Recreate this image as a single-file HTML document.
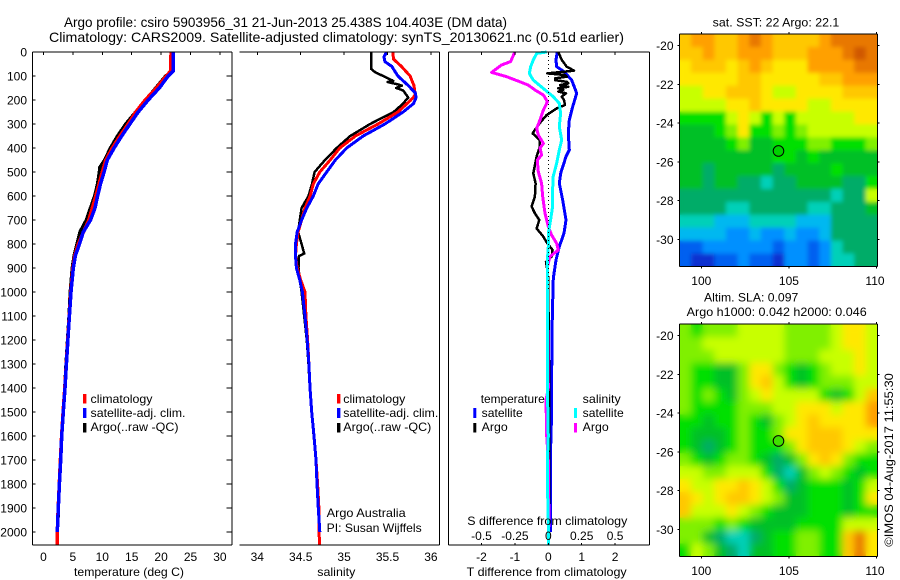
<!DOCTYPE html>
<html lang="en">
<head>
<meta charset="utf-8">
<title>Argo profile chart</title>
<style>
html,body{margin:0;padding:0;background:#fff;width:900px;height:580px;overflow:hidden}
svg{position:absolute;left:0;top:0;display:block}
text{font-family:"Liberation Sans",Arial,sans-serif;font-size:12px;fill:#000}
.t{font-size:14px}
</style>
</head>
<body>
<svg id="chart" xmlns="http://www.w3.org/2000/svg" width="900" height="580" viewBox="0 0 900 580">
<defs>
<filter id="blur-sst" x="-5%" y="-5%" width="110%" height="110%"><feGaussianBlur in="SourceGraphic" stdDeviation="2" result="b"/><feMerge><feMergeNode in="SourceGraphic"/><feMergeNode in="b"/></feMerge></filter>
<filter id="blur-sla" x="-5%" y="-5%" width="110%" height="110%"><feGaussianBlur in="SourceGraphic" stdDeviation="4" result="b"/><feMerge><feMergeNode in="SourceGraphic"/><feMergeNode in="b"/></feMerge></filter>
<clipPath id="clip-sst"><rect x="679.4" y="34.1" width="198.1" height="232.4"/></clipPath>
<clipPath id="clip-sla"><rect x="679.4" y="324.1" width="198.1" height="232.4"/></clipPath>
</defs>
<rect x="0" y="0" width="900" height="580" fill="#fff"/>
<text class="t" x="64" y="27" textLength="443" lengthAdjust="spacingAndGlyphs">Argo profile: csiro 5903956_31 21-Jun-2013 25.438S 104.403E (DM data)</text>
<text class="t" x="49" y="42" textLength="575" lengthAdjust="spacingAndGlyphs">Climatology: CARS2009. Satellite-adjusted climatology: synTS_20130621.nc (0.51d earlier)</text>
<g clip-path="url(#clip-sst)"><g id="layer-sst" filter="url(#blur-sst)"></g></g>
<g clip-path="url(#clip-sla)"><g id="layer-sla" filter="url(#blur-sla)"></g></g>
<g id="layer-lines"></g>
<g id="layer-axes"></g>

<text x="74" y="576" textLength="110" lengthAdjust="spacingAndGlyphs">temperature (deg C)</text>
<text x="317.3" y="576" textLength="38" lengthAdjust="spacingAndGlyphs">salinity</text>
<text x="466.7" y="576" textLength="160" lengthAdjust="spacingAndGlyphs">T difference from climatology</text>
<text x="467.3" y="525" textLength="160" lengthAdjust="spacingAndGlyphs">S difference from climatology</text>

<g>
<rect x="83" y="394" width="3.4" height="9.5" fill="#f00"/>
<rect x="83" y="408" width="3.4" height="10" fill="#00f"/>
<rect x="83" y="423" width="3.4" height="9.5" fill="#000"/>
<text x="90.5" y="403" textLength="62" lengthAdjust="spacingAndGlyphs">climatology</text>
<text x="90.5" y="417" textLength="95" lengthAdjust="spacingAndGlyphs">satellite-adj. clim.</text>
<text x="90.5" y="431" textLength="88" lengthAdjust="spacingAndGlyphs">Argo(..raw -QC)</text>
</g>
<g>
<rect x="337" y="394" width="3.4" height="9.5" fill="#f00"/>
<rect x="337" y="408" width="3.4" height="10" fill="#00f"/>
<rect x="337" y="423" width="3.4" height="9.5" fill="#000"/>
<text x="343.3" y="403" textLength="62" lengthAdjust="spacingAndGlyphs">climatology</text>
<text x="343.3" y="417" textLength="95" lengthAdjust="spacingAndGlyphs">satellite-adj. clim.</text>
<text x="343.3" y="431" textLength="88" lengthAdjust="spacingAndGlyphs">Argo(..raw -QC)</text>
</g>
<text x="326.7" y="517" textLength="79" lengthAdjust="spacingAndGlyphs">Argo Australia</text>
<text x="326.7" y="532" textLength="95" lengthAdjust="spacingAndGlyphs">PI: Susan Wijffels</text>

<g>
<text x="480.7" y="403" textLength="64" lengthAdjust="spacingAndGlyphs">temperature</text>
<text x="582.7" y="403" textLength="38" lengthAdjust="spacingAndGlyphs">salinity</text>
<rect x="473.3" y="408" width="3" height="10" fill="#00f"/>
<rect x="473.3" y="423" width="3" height="9.5" fill="#000"/>
<rect x="574" y="408" width="3" height="10" fill="#0ff"/>
<rect x="574" y="423" width="3" height="9.5" fill="#f0f"/>
<text x="481.7" y="417" textLength="41" lengthAdjust="spacingAndGlyphs">satellite</text>
<text x="481.7" y="431" textLength="26" lengthAdjust="spacingAndGlyphs">Argo</text>
<text x="582.7" y="417" textLength="41" lengthAdjust="spacingAndGlyphs">satellite</text>
<text x="582.7" y="431" textLength="26" lengthAdjust="spacingAndGlyphs">Argo</text>
</g>

<text x="712.7" y="26.5" textLength="126.6" lengthAdjust="spacingAndGlyphs">sat. SST: 22 Argo: 22.1</text>
<text x="704" y="301.5" textLength="94.3" lengthAdjust="spacingAndGlyphs">Altim. SLA: 0.097</text>
<text x="686.7" y="316" textLength="180" lengthAdjust="spacingAndGlyphs">Argo h1000: 0.042 h2000: 0.046</text>
<text transform="translate(893,546.7) rotate(-90)" textLength="173.5" lengthAdjust="spacingAndGlyphs">©IMOS 04-Aug-2017 11:55:30</text>
</svg>

<script>
// ---------- chart data ----------
const depthTicks = [0,100,200,300,400,500,600,700,800,900,1000,1100,1200,1300,1400,1500,1600,1700,1800,1900,2000];
const tempTicks = [0,5,10,15,20,25,30];
const salTicks = [34,34.5,35,35.5,36];
const tDiffTicks = [-2,-1,0,1,2];
const sDiffTicks = [-0.5,-0.25,0,0.25,0.5];
const lonTicks = [100,105,110];
const latTicks = [-20,-22,-24,-26,-28,-30];

const tempClimDepth = [0,80,100,150,200,250,300,350,400,450,500,600,700,800,850,900,1000,1100,1200,1300,1400,1500,1600,1700,1800,1900,2000,2054];
const tempClim = [21.7,21.6,20.9,19.2,17.3,15.7,14.4,13,11.7,10.6,10,8.9,7.7,5.9,5.3,5,4.65,4.38,4.12,3.88,3.62,3.33,3.08,2.88,2.68,2.5,2.35,2.33];
const tempSatDepth = [0,80,100,150,200,250,300,350,400,450,500,550,600,650,700,750,800,850,900,1000,1100,1200,1300,1400,1500,1600,1700,1800,1900,2000];
const tempSat = [22.08,22.05,21.2,19.7,17.8,16.1,14.7,13.3,12,10.85,10.3,9.7,9.2,8.76,8,6.77,6.1,5.4,5.07,4.68,4.4,4.15,3.9,3.66,3.37,3.1,2.92,2.7,2.52,2.35];
const tempArgoDepth = [0,80,90,100,150,200,250,300,350,400,450,480,500,550,600,650,700,750,800,850,900,1000,1100,1200,1300,1400,1500,1600,1700,1800,1900,1980];
const tempArgo = [22,22,21.3,20.8,19.1,17.4,15.7,14,12.6,11.4,10.4,9.6,9.5,9.2,8.7,8,7.3,6.2,5.7,5.2,4.9,4.55,4.35,4.1,3.85,3.62,3.35,3.08,2.9,2.68,2.52,2.42];

const salClimDepth = [0,30,60,100,140,180,200,250,300,350,400,450,500,550,600,650,700,750,800,850,900,950,1000,1100,1200,1300,1400,1500,1600,1700,1800,1900,2000,2054];
const salClim = [35.56,35.57,35.66,35.76,35.805,35.82,35.77,35.62,35.39,35.13,34.95,34.84,34.72,34.645,34.61,34.55,34.51,34.47,34.45,34.44,34.46,34.5,34.55,34.56,34.58,34.595,34.607,34.627,34.653,34.676,34.695,34.71,34.71,34.72];
const salSatDepth = [0,20,40,60,100,140,170,190,215,250,300,350,400,450,500,550,600,650,700,750,800,850,900,950,1000,1100,1200,1300,1400,1500,1600,1700,1800,1900,2000];
const salSat = [35.49,35.46,35.47,35.55,35.62,35.74,35.82,35.83,35.8,35.68,35.47,35.22,35.03,34.9,34.8,34.7,34.645,34.57,34.51,34.46,34.44,34.44,34.45,34.49,34.52,34.55,34.575,34.595,34.607,34.627,34.653,34.676,34.688,34.703,34.72];
const salArgoDepth = [0,70,85,100,120,125,135,140,150,160,170,190,220,250,300,350,400,450,500,550,600,650,700,750,800,840,850,900,950,1000,1100,1200,1300,1400,1500,1600,1700,1800,1900,1980];
const salArgo = [35.31,35.31,35.36,35.45,35.565,35.5,35.62,35.665,35.6,35.68,35.7,35.74,35.665,35.57,35.3,35.07,34.915,34.78,34.66,34.63,34.59,34.51,34.49,34.47,34.51,34.54,34.48,34.475,34.49,34.51,34.54,34.57,34.59,34.605,34.625,34.65,34.675,34.69,34.705,34.71];

const dTSatDepth = [0,33,61,82,117,172,228,283,339,408,436,505,547,617,700,755,811,867,943,1100,1367,1550,1700,2000];
const dTSat = [0.27,0.23,0.25,0.47,0.7,0.85,0.73,0.63,0.6,0.63,0.53,0.37,0.33,0.43,0.53,0.47,0.33,0.23,0.15,0.12,0.1,0.09,0.06,0.06];
const dTArgoDepth = [0,33,61,78,89,96,103,110,117,124,131,138,145,151,158,165,172,186,200,221,235,263,290,325,339,367,394,436,506,547,603,644,672,700,735,769,797,825,853,874,908,943,1000,1400,1980];
const dTArgo = [0.3,0.4,0.55,0.77,-0.03,0.5,0.55,0.2,0.2,0.55,0.6,0.35,0.6,0.3,0.45,0.3,0.53,0.4,0.47,0.5,0.25,-0.05,-0.22,-0.4,-0.47,-0.25,-0.25,-0.35,-0.45,-0.38,-0.4,-0.5,-0.4,-0.27,-0.35,-0.15,-0.03,0.13,0.1,-0.07,-0.03,0,0,0.03,0.03];
const dSSatDepth = [0,6,33,61,89,117,158,186,214,256,311,367,408,464,519,575,644,700,756,811,867,943,1000,1400,1600,1700,1800,1950,2054];
const dSSat = [-0.012,-0.087,-0.112,-0.132,-0.142,-0.112,-0.025,0.037,0.082,0.092,0.082,0.1,0.082,0.062,0.037,0.032,0.032,0.017,0,0,-0.007,-0.007,-0.007,-0.007,0,-0.007,-0.007,0,0];
const dSArgoDepth = [0,40,54,85,103,124,138,158,179,207,242,283,318,346,381,401,429,450,499,547,603,672,728,763,797,825,853,894,943,1000,1400,1450,1600,1700,1980];
const dSArgo = [-0.25,-0.282,-0.35,-0.424,-0.312,-0.212,-0.15,-0.1,-0.037,-0.007,-0.037,-0.062,-0.087,-0.075,-0.037,-0.062,-0.05,-0.082,-0.075,-0.05,-0.042,-0.025,0,0.025,0.062,0.075,0.012,-0.007,-0.007,-0.007,0,-0.017,-0.012,0,0.005];

// Map cell values are colour-scale levels (top row first).
const sstRows = [
[11,12,12,11,11,12,13,12,11,11,11,11,12,13,13,13,13],
[11,11,12,11,11,12,12,12,11,11,11,12,12,12,13,14,13],
[10,11,11,11,10,11,12,11,10,10,10,12,12,12,12,13,13],
[10,10,10,10,10,11,11,10,10,10,10,10,11,11,12,12,12],
[9,9,10,10,11,11,11,10,9,9,10,10,10,10,11,11,11],
[9,9,9,9,10,10,11,10,10,10,10,9,9,10,10,10,10],
[7,7,7,7,9,10,9,7,9,7,9,9,9,9,9,10,10],
[6,6,6,7,8,10,7,7,8,7,8,9,9,9,9,9,9],
[6,6,6,6,7,8,6,6,7,7,7,8,8,7,7,7,8],
[6,6,6,6,6,6,6,6,7,7,6,7,6,6,6,6,6],
[6,6,5,6,6,6,6,6,5,6,6,6,6,7,6,6,6],
[6,6,5,6,6,5,5,4,5,5,6,6,6,6,5,5,7],
[5,5,5,5,5,5,5,5,5,5,5,5,5,4,5,5,9],
[5,5,5,5,4,4,5,5,5,5,5,4,4,5,5,5,6],
[4,4,4,3,3,3,4,4,4,4,3,3,3,5,5,5,5],
[3,3,3,3,2,2,3,2,2,3,2,2,3,5,5,5,5],
[1,1,2,2,2,2,2,2,1,2,2,1,2,4,5,5,5],
[1,0,0,1,1,2,1,1,0,2,2,1,2,4,4,5,5]
];
const slaRows = [
[8,7,8,8,8,9,9,9,9,8,8,8,8,9,10,10,9],
[8,8,9,9,9,9,9,9,9,8,8,8,8,9,10,10,9],
[8,8,8,9,9,9,9,9,9,8,8,8,9,9,9,10,9],
[8,7,7,6,6,8,10,10,8,7,6,7,8,9,9,10,9],
[8,7,7,6,6,8,10,11,9,7,6,7,8,8,8,9,9],
[8,7,8,7,6,8,9,10,9,9,9,9,7,6,7,9,11],
[8,7,7,7,7,8,8,8,9,9,10,10,10,9,10,10,12],
[7,7,6,7,7,8,7,6,8,9,10,11,10,10,10,10,12],
[7,6,6,6,7,8,7,7,8,10,10,11,11,11,10,10,10],
[7,6,5,6,7,8,7,7,7,8,10,11,11,11,10,9,8],
[8,7,6,7,8,8,7,6,5,6,8,10,11,10,8,7,7],
[9,9,8,8,9,9,9,7,5,4,6,8,9,8,7,6,7],
[10,9,9,10,10,11,10,9,7,5,6,7,7,7,6,7,9],
[11,10,9,10,11,11,10,9,8,6,6,7,7,7,6,7,10],
[11,9,9,9,10,9,8,7,6,6,6,7,7,7,6,7,7],
[8,8,8,7,8,7,6,6,6,6,7,7,7,7,9,9,9],
[8,8,6,5,4,4,5,6,7,7,8,8,7,7,11,13,10],
[7,9,8,6,5,4,6,6,7,7,8,8,7,7,11,13,10]
];
const colourScale = ['#0a30d0','#0060f0','#0090ff','#00b8f0','#00d0b8','#00ac68','#00c028','#00e000','#80f000','#c8ff00','#ffe800','#ffc800','#ffa000','#e87800','#d05800'];
const floatLon = [104.403];
const floatLat = [-25.438];

// ---------- axis functions ----------
const yDepth = d => 52 + 0.24 * d;
const xTemp = t => 43.5 + 5.88 * t;
const xSal = s => 257.3 + 86.8 * (s - 34);
const xDT = t => 548.3 + 33.4 * t;
const xDS = s => 548.3 + 133.6 * s;
const xLon = lon => 701.3 + 17.53 * (lon - 100);
const yLatTop = lat => 45.7 + 19.36 * (-20 - lat);
const yLatBot = lat => 335.7 + 19.36 * (-20 - lat);

const NS = 'http://www.w3.org/2000/svg';
const sstLayer = document.getElementById('layer-sst');
const slaLayer = document.getElementById('layer-sla');
const linesLayer = document.getElementById('layer-lines');
const axesLayer = document.getElementById('layer-axes');

function tickLine(x1, y1, x2, y2) {
  const l = document.createElementNS(NS, 'line');
  
  
  l.setAttribute('x1', x1); l.setAttribute('y1', y1);
  l.setAttribute('x2', x2); l.setAttribute('y2', y2);
  l.setAttribute('stroke', '#000');
  l.setAttribute('stroke-width', '1');
  l.setAttribute('shape-rendering', 'crispEdges');
  axesLayer.appendChild(l);
  return l;
}
function label(str, x, y, anchor) {
  const t = document.createElementNS(NS, 'text');
  
  
  t.setAttribute('x', x); t.setAttribute('y', y);
  t.setAttribute('text-anchor', anchor || 'middle');
  t.textContent = str;
  axesLayer.appendChild(t);
}
function profile(name, depths, values, xf, colour, width) {
  const p = document.createElementNS(NS, 'polyline');
  
  
  p.setAttribute('points', depths.map((d, i) => xf(values[i]).toFixed(1) + ',' + yDepth(d).toFixed(1)).join(' '));
  p.setAttribute('fill', 'none');
  p.setAttribute('stroke', colour);
  p.setAttribute('stroke-width', width);
  p.setAttribute('stroke-linejoin', 'round');
  p.setAttribute('shape-rendering', 'crispEdges');
  linesLayer.appendChild(p);
}
function levelColour(v) {
  const c = Math.max(0, Math.min(colourScale.length - 1, Math.round(v)));
  return colourScale[c];
}
function heatmap(name, rows, yLat, parent) {
  const lonStart = 98.75, lonStep = 11.3 / rows[0].length;
  const latStart = -19.4, latStep = -12 / rows.length;
  rows.forEach((row, r) => row.forEach((v, c) => {
    const x0 = xLon(lonStart + c * lonStep), x1 = xLon(lonStart + (c + 1) * lonStep);
    const y0 = yLat(latStart + r * latStep), y1 = yLat(latStart + (r + 1) * latStep);
    const cell = document.createElementNS(NS, 'rect');
    
    
    cell.setAttribute('x', x0.toFixed(2));
    cell.setAttribute('y', y0.toFixed(2));
    cell.setAttribute('width', (x1 - x0 + 0.4).toFixed(2));
    cell.setAttribute('height', (y1 - y0 + 0.4).toFixed(2));
    cell.setAttribute('fill', levelColour(v));
    parent.appendChild(cell);
  }));
}
function mapFrame(yLat, xLabelY, fill) {
  const left = xLon(98.75), right = xLon(110.05), top = yLat(-19.4), bot = yLat(-31.4);
  tickLine(left, top, right, top);
  tickLine(left, bot, right, bot);
  tickLine(left, top, left, bot);
  tickLine(right, top, right, bot);
  lonTicks.forEach(v => {
    tickLine(xLon(v), top - 2, xLon(v), top);
    tickLine(xLon(v), bot, xLon(v), bot + 2);
    label(String(v), Math.min(xLon(v), 875), xLabelY);
  });
  latTicks.forEach(v => {
    tickLine(right, yLat(v), right + 2, yLat(v));
    tickLine(left - 2, yLat(v), left, yLat(v));
    label(String(v), 673.5, yLat(v) + 4.5, 'end');
  });
  const mark = document.createElementNS(NS, 'circle');
  
  
  mark.setAttribute('cx', xLon(floatLon[0]));
  mark.setAttribute('cy', yLat(floatLat[0]));
  mark.setAttribute('r', '5.3');
  mark.setAttribute('fill', fill);
  mark.setAttribute('stroke', '#000');
  mark.setAttribute('stroke-width', '1');
  axesLayer.appendChild(mark);
}

// ---------- maps ----------
heatmap('sst-map-cell', sstRows, yLatTop, sstLayer);
heatmap('sla-map-cell', slaRows, yLatBot, slaLayer);
mapFrame(yLatTop, 285, '#00d000');
mapFrame(yLatBot, 575, '#40e000');

// ---------- zero line and profiles ----------
const zeroLine = tickLine(xDT(0), yDepth(0), xDT(0), yDepth(1000));
zeroLine.setAttribute('stroke-dasharray', '1 3');

profile('temperature-argo-line', tempArgoDepth, tempArgo, xTemp, '#000', 3.5);
profile('temperature-climatology-line', tempClimDepth, tempClim, xTemp, '#f00', 3.5);
profile('temperature-satellite-line', tempSatDepth, tempSat, xTemp, '#00f', 3.5);

profile('salinity-argo-line', salArgoDepth, salArgo, xSal, '#000', 2.5);
profile('salinity-climatology-line', salClimDepth, salClim, xSal, '#f00', 3);
profile('salinity-satellite-line', salSatDepth, salSat, xSal, '#00f', 3);

profile('t-difference-satellite-line', dTSatDepth, dTSat, xDT, '#00f', 3);
profile('t-difference-argo-line', dTArgoDepth, dTArgo, xDT, '#000', 2.5);
profile('s-difference-argo-line', dSArgoDepth, dSArgo, xDS, '#f0f', 3);
profile('s-difference-satellite-line', dSSatDepth, dSSat, xDS, '#0ff', 3);

// ---------- profile panel frames ----------
const yTop = 52, yBot = 545;
tickLine(32.5, yTop, 232, yTop);
tickLine(32.5, yBot, 232, yBot);
tickLine(32.5, yTop, 32.5, yBot);
tickLine(232, yTop, 232, yBot);
tickLine(239.5, yTop, 439.5, yTop);
tickLine(239.5, yBot, 439.5, yBot);
tickLine(439.5, yTop, 439.5, yBot);
tickLine(448.5, yTop, 649.5, yTop);
tickLine(448.5, yBot, 649.5, yBot);
tickLine(448.5, yTop, 448.5, yBot);
tickLine(649.5, yTop, 649.5, yBot);

depthTicks.forEach(d => {
  const y = yDepth(d);
  tickLine(32.5, y, 35.5, y);
  tickLine(226.5, y, 232, y);
  label(String(d), 27, y + 4.5, 'end');
});
tempTicks.forEach(v => {
  tickLine(xTemp(v), yTop, xTemp(v), yTop + 3);
  label(String(v), xTemp(v), 561);
});
salTicks.forEach(v => {
  tickLine(xSal(v), yTop, xSal(v), yTop + 3);
  label(String(v), xSal(v), 561);
});
tDiffTicks.forEach(v => {
  tickLine(xDT(v), yTop, xDT(v), yTop + 3);
  tickLine(xDT(v), yBot, xDT(v), yBot - 2);
  label(String(v), xDT(v), 561);
});
sDiffTicks.forEach(v => {
  label(String(v), xDS(v), 540);
});
</script>
</body>
</html>
